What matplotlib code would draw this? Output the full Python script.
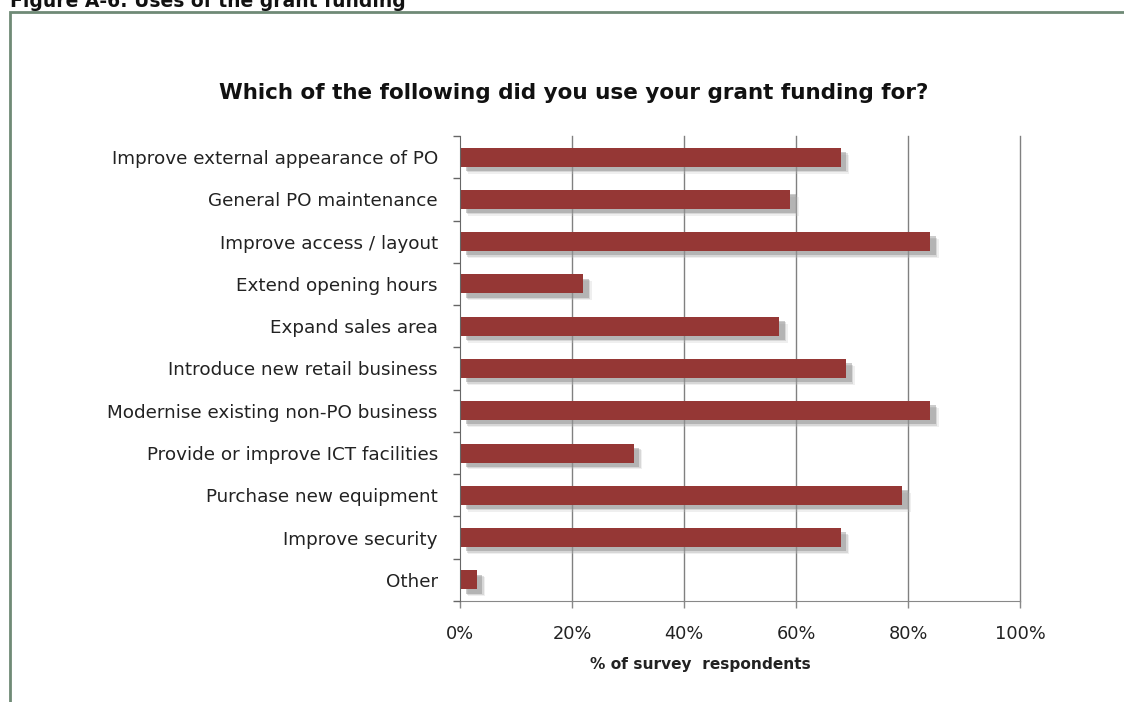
import matplotlib.pyplot as plt
import matplotlib.patheffects as pe
from matplotlib.patches import Rectangle
from matplotlib.ticker import FuncFormatter

plt.rcParams['font.family'] = ['DejaVu Sans']

# Survey answers, top to bottom
categories = [
    'Improve external appearance of PO',
    'General PO maintenance',
    'Improve access / layout',
    'Extend opening hours',
    'Expand sales area',
    'Introduce new retail business',
    'Modernise existing non-PO business',
    'Provide or improve ICT facilities',
    'Purchase new equipment',
    'Improve security',
    'Other',
]
share = [0.68, 0.59, 0.84, 0.22, 0.57, 0.69, 0.84, 0.31, 0.79, 0.68, 0.03]
x_ticks = [0, 0.2, 0.4, 0.6, 0.8, 1.0]

bar_color = '#953735'
frame_color = '#6f8a76'

fig = plt.figure(figsize=(11.24, 7.02), dpi=100)
ax = fig.add_axes([0.4093, 0.1439, 0.4982, 0.6624])

ypos = list(range(len(categories)))
# soft drop shadow built from a few stacked offsets
shadow = [
    pe.SimplePatchShadow(offset=(6, -5), shadow_rgbFace='#c0c0c0', alpha=0.25),
    pe.SimplePatchShadow(offset=(5, -4), shadow_rgbFace='#a0a0a0', alpha=0.3),
    pe.SimplePatchShadow(offset=(4, -3), shadow_rgbFace='#808080', alpha=0.4),
    pe.Normal(),
]
bars = ax.barh(ypos, share, height=0.45, color=bar_color, zorder=3)
for b in bars:
    b.set_path_effects(shadow)

ax.set_ylim(len(categories) - 0.5, -0.5)
ax.set_xlim(0, 1.0)

ax.set_yticks(ypos)
ax.set_yticklabels(categories, fontsize=13.2, color='#222222')
ax.tick_params(axis='y', which='major', length=0, pad=16)
ax.set_yticks([i - 0.5 for i in range(len(categories) + 1)], minor=True)
ax.tick_params(axis='y', which='minor', length=5, width=1, color='#666666')

ax.set_xticks(x_ticks)
ax.xaxis.set_major_formatter(FuncFormatter(lambda v, _: f'{v * 100:.0f}%'))
ax.tick_params(axis='x', length=5, width=1, color='#888888', pad=12,
               labelsize=12.8, labelcolor='#222222')

# vertical gridlines, the 100% one included
for v in x_ticks[1:]:
    ax.axvline(v, color='#808080', linewidth=1, zorder=0, clip_on=False)

for side in ['top', 'right']:
    ax.spines[side].set_visible(False)
ax.spines['left'].set_color('#666666')
ax.spines['bottom'].set_color('#888888')
ax.spines['left'].set_zorder(4)

ax.set_xlabel('% of survey  respondents', fontsize=11.1, fontweight='bold',
              color='#222222')
ax.xaxis.set_label_coords(0.43, -0.12)

fig.text(0.510, 0.868, 'Which of the following did you use your grant funding for?',
         fontsize=15.5, fontweight='bold', ha='center', va='center', color='#111111')

# report figure caption, partly above the page edge
fig.text(0.009, 0.990, 'Figure A-6: Uses of the grant funding', fontsize=13.5,
         fontweight='bold', ha='left', va='baseline', color='#111111')

# page frame running off the right and bottom edges
fig.patches.append(Rectangle((9.5 / 1124, -0.05), 1.2, 1 - 11.5 / 702 + 0.05,
                             transform=fig.transFigure, fill=False,
                             edgecolor=frame_color, linewidth=2))

fig.savefig('out.png', dpi=100)
